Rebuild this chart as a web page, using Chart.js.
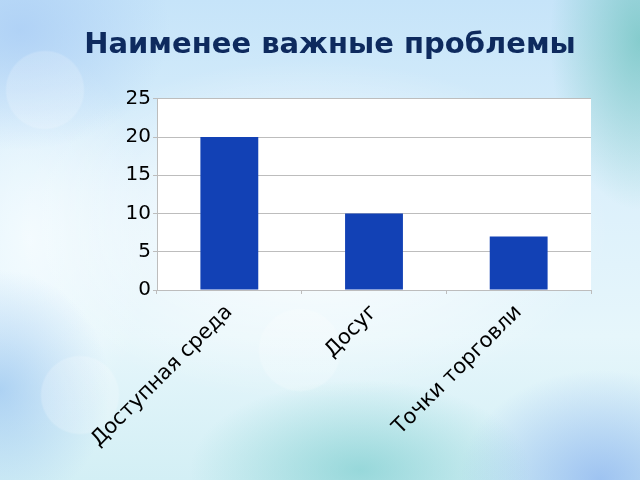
<!DOCTYPE html>
<html><head><meta charset="utf-8">
<script src="https://cdn.jsdelivr.net/npm/chart.js@4/dist/chart.umd.min.js"></script>
<style>
html,body{margin:0;padding:0;width:640px;height:480px;overflow:hidden;}
body{
background:
 radial-gradient(circle at 45px 90px, rgba(255,255,255,0.18) 0 38px, rgba(255,255,255,0) 40px),
 radial-gradient(circle at 80px 395px, rgba(255,255,255,0.2) 0 38px, rgba(255,255,255,0) 40px),
 radial-gradient(circle at 300px 350px, rgba(255,255,255,0.2) 0 40px, rgba(255,255,255,0) 42px),
 radial-gradient(ellipse 170px 90px at 360px 470px, rgba(110,200,200,0.6), rgba(110,200,200,0) 100%),
 radial-gradient(ellipse 90px 170px at 640px 40px, rgba(110,195,190,0.75), rgba(110,195,190,0) 100%),
 radial-gradient(ellipse 140px 110px at 600px 480px, rgba(140,180,240,0.75), rgba(140,180,240,0) 100%),
 radial-gradient(ellipse 150px 120px at 20px 30px, rgba(170,205,245,0.8), rgba(170,205,245,0) 100%),
 radial-gradient(ellipse 110px 120px at 0px 390px, rgba(150,195,240,0.7), rgba(150,195,240,0) 100%),
 radial-gradient(ellipse 300px 170px at 310px 230px, rgba(255,255,255,0.95), rgba(255,255,255,0) 100%),
 radial-gradient(ellipse 120px 200px at 30px 240px, rgba(245,252,255,0.9), rgba(245,252,255,0) 100%),
 linear-gradient(180deg, #c6e4f9 0%, #dcf0fb 40%, #e6f6fb 70%, #d3eff5 100%);
}
canvas{display:block;}
</style>
</head><body>
<canvas id="c" width="640" height="480"></canvas>
<script>
const categories = ['Доступная среда', 'Досуг', 'Точки торговли'];
const values = [20, 10, 7];
const yTicks = [0, 5, 10, 15, 20, 25];

new Chart(document.getElementById('c'), {
  type: 'bar',
  data: {
    labels: categories,
    datasets: [{
      data: values,
      backgroundColor: '#1241B5',
      borderWidth: 0,
      barPercentage: 0.4,
      categoryPercentage: 1.0
    }]
  },
  options: {
    responsive: false,
    animation: false,
    devicePixelRatio: 1,
    layout: { padding: { left: 69, right: 49, top: 28, bottom: 0 } },
    plugins: {
      legend: { display: false },
      tooltip: { enabled: false },
      title: {
        display: true,
        text: 'Наименее важные проблемы',
        color: '#0E2A5E',
        font: { family: 'DejaVu Sans', size: 29, weight: 'bold', lineHeight: 1.2 },
        padding: { top: 0, bottom: 36 }
      }
    },
    scales: {
      x: {
        grid: { display: true, offset: true, drawOnChartArea: false, drawTicks: true, tickLength: 4, color: '#BDBDBD' },
        border: { display: true, color: '#BDBDBD' },
        ticks: {
          color: '#000',
          font: { family: 'DejaVu Sans', size: 21 },
          minRotation: 45, maxRotation: 45,
          padding: 6
        },
        afterFit: (axis) => { axis.height = 190; }
      },
      y: {
        min: 0, max: 25,
        afterBuildTicks: (axis) => { axis.ticks = yTicks.map(v => ({ value: v })); },
        grid: { color: '#BDBDBD', tickLength: 4, drawTicks: true },
        border: { display: true, color: '#BDBDBD' },
        ticks: {
          color: '#000',
          font: { family: 'DejaVu Sans', size: 20 },
          padding: 2
        },
        afterFit: (axis) => { axis.width = 88; }
      }
    }
  },
  plugins: [{
    id: 'whiteArea',
    beforeDraw(chart) {
      const a = chart.chartArea, ctx = chart.ctx;
      ctx.save();
      ctx.fillStyle = '#ffffff';
      ctx.fillRect(a.left, a.top, a.right - a.left, a.bottom - a.top);
      ctx.restore();
    }
  }]
});
</script>
</body></html>
